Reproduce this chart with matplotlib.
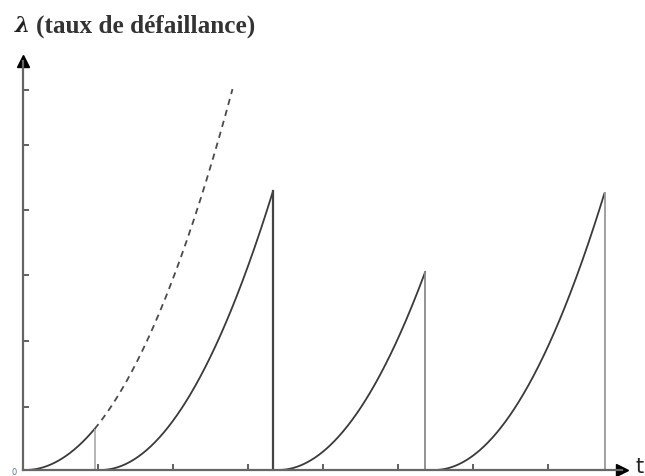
import numpy as np
import matplotlib
matplotlib.use("Agg")
import matplotlib.pyplot as plt

# Segment data (t in tick units, lambda in tick units)
seg_start = [0.04, 1.04, 3.41, 5.49]
seg_end = [0.96, 3.34, 5.37, 7.76]
seg_peak = [0.63, 4.29, 3.05, 4.26]
seg_line_colors = ["#b0b0b0", "#444444", "#8a8a8a", "#9a9a9a"]
# Continuation of the first (non-maintained) curve
dash_end = 2.80
dash_peak = 5.86

x_ticks = [1, 2, 3, 4, 5, 6, 7]
y_ticks = [0.97, 1.98, 3.0, 4.0, 5.0, 5.85]

W, H = 645, 477
fig = plt.figure(figsize=(W / 100, H / 100), dpi=100)
ox, oy = 22.5, 471
xmax_px, ytop_px = 622, 62
ax = fig.add_axes([ox / W, (H - oy) / H, (xmax_px - ox) / W, (oy - ytop_px) / H])
ax.set_xlim(0, (xmax_px - ox) / 75)
ax.set_ylim(0, (oy - ytop_px) / 65)
ax.patch.set_alpha(0)

curve_color = "#3a3a3a"
for i, (a, b, p) in enumerate(zip(seg_start, seg_end, seg_peak)):
    t = np.linspace(a, b, 200)
    lam = p * ((t - a) / (b - a)) ** 2
    ax.plot(t, lam, color=curve_color, lw=1.3, solid_capstyle="round")
    ax.plot([b, b], [0, p], color=seg_line_colors[i], lw=1.6 if i == 1 else 1.3)

# dashed continuation of first curve
a, b, p = seg_start[0], seg_end[0], seg_peak[0]
k = dash_peak / (dash_end - a) ** 2.03
t = np.linspace(b, dash_end, 200)
ax.plot(t, k * (t - a) ** 2.03, color="#4a4a4a", lw=1.3, dashes=(3.5, 2.8))

for s in ["top", "right"]:
    ax.spines[s].set_visible(False)
for s in ["left", "bottom"]:
    ax.spines[s].set_color("#666666")
    ax.spines[s].set_linewidth(1.6)

ax.set_xticks(x_ticks)
ax.set_yticks(y_ticks)
ax.set_xticklabels([])
ax.set_yticklabels([])
ax.tick_params(direction="in", length=4, width=1.2, color="#444444")

# arrow heads
ax.plot(1, 0, ">", color="black", ms=8, transform=ax.transAxes, clip_on=False)
ax.plot(0, 1, "^", color="black", ms=8, transform=ax.transAxes, clip_on=False)

fig.text(14 / W, 1 - 473 / H, "0", fontsize=6, color="#6a7a9a", ha="center", va="center")
fig.text(640 / W, 1 - 467 / H, "t", fontsize=15, color="#222222", ha="center", va="center",
         family="DejaVu Sans")

fig.text(15 / W, 1 - 26 / H, "λ", fontsize=15.5, color="#222222", ha="left", va="center",
         family="DejaVu Serif", weight="bold", style="italic")
fig.text(36 / W, 1 - 26 / H, "(taux de défaillance)", fontsize=18.2, color="#333333",
         ha="left", va="center", family="Liberation Serif", weight="bold")

fig.savefig("out.png", dpi=100)
